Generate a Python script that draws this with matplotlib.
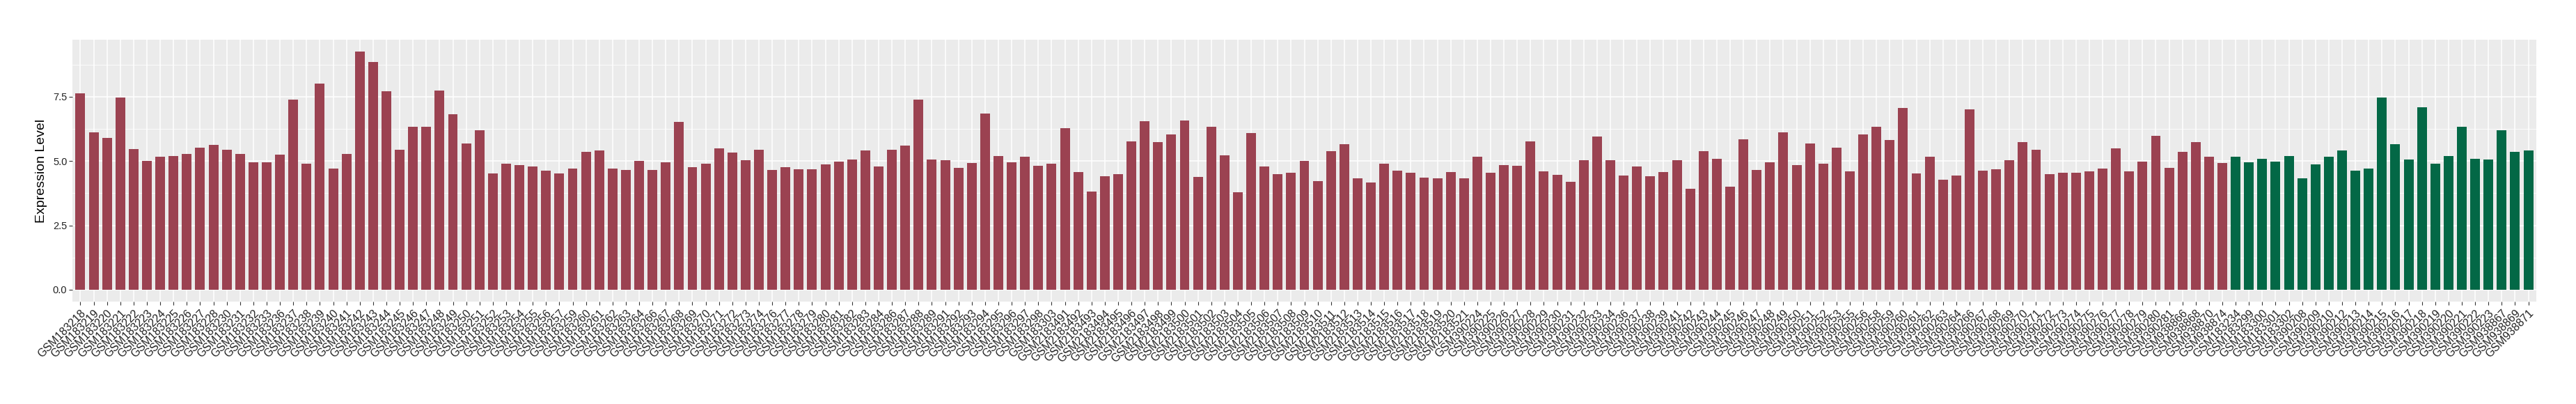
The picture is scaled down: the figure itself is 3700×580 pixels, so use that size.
import matplotlib
matplotlib.use("Agg")
import matplotlib.pyplot as plt
import numpy as np

# ---- data ----
group1_labels = (
    ["GSM1832%s" % s for s in ["18","19","20","21","22","23","24","25","26","27","28","30","31","32","33","36","37","38","39","40",
                               "41","42","43","44","45","46","47","48","49","50","51","52","53","54","55","56","57","59","60",
                               "61","62","63","64","66","67","68","69","70","71","72","73","74","76","77","78","79","80","81",
                               "82","83","84","86","87","88","89","91","92","93","94","95","96","97","98"]]
    + ["GSM183303"]
    + ["GSM21834%s" % s for s in ["91","92","93","94","95","96","97","98","99"]]
    + ["GSM21835%02d" % i for i in range(0, 22)]
    + ["GSM3902%s" % s for s in ["24","25","26","27","28","29","30","31","32","33","34","36","37","38","39","41","42","43",
                                 "44","45","46","47","48","49","50","51","52","53","55","56","58","59","60","61","62","63",
                                 "64","66","67","68","69","70","71","72","73","74","75","76","77","78","79","80","81"]]
    + ["GSM938866", "GSM938868", "GSM938870", "GSM938874"]
)
group1_values = [
    7.63, 6.11, 5.90, 7.47, 5.46, 5.01, 5.17, 5.19, 5.28, 5.52, 5.63, 5.44, 5.28, 4.95, 4.95, 5.25, 7.38, 4.90, 8.01, 4.71,
    5.28, 9.25, 8.84, 7.71, 5.44, 6.33, 6.33, 7.74, 6.82, 5.68, 6.19, 4.52, 4.90, 4.84, 4.79, 4.63, 4.52, 4.71, 5.36,
    5.41, 4.71, 4.65, 5.01,
    4.65, 4.95, 6.52, 4.76, 4.90, 5.49, 5.33, 5.03, 5.44, 4.65, 4.76, 4.68, 4.68, 4.87, 4.98, 5.06, 5.41, 4.79, 5.44,
    5.60, 7.38, 5.06, 5.03, 4.73,
    4.92, 6.84, 5.19, 4.95, 5.17, 4.82, 4.90,
    6.28, 4.57, 3.82, 4.41, 4.49, 5.76, 6.55, 5.73, 6.03, 6.57, 4.38, 6.33, 5.22, 3.79, 6.09, 4.79,
    4.49, 4.55, 5.01, 4.22, 5.38, 5.65, 4.33, 4.17, 4.90, 4.63, 4.55, 4.36, 4.33, 4.57, 4.33,
    5.17, 4.55, 4.84, 4.82, 5.76, 4.60, 4.46, 4.19, 5.03,
    5.95, 5.03, 4.44, 4.79, 4.41, 4.57, 5.03, 3.92, 5.38, 5.09, 4.00, 5.84, 4.65, 4.95, 6.11, 4.84, 5.68, 4.90, 5.52,
    4.60, 6.03, 6.33, 5.82, 7.06,
    4.52, 5.17, 4.28, 4.44, 7.01, 4.63, 4.68, 5.03, 5.73, 5.44, 4.49, 4.55, 4.55, 4.60, 4.71, 5.49, 4.60, 4.98, 5.98, 4.73,
    5.36, 5.73, 5.17, 4.92,
]
group2_labels = (
    ["GSM183234", "GSM183299", "GSM183300", "GSM183301", "GSM183302"]
    + ["GSM3902%s" % s for s in ["08","09","10","12","13","14","15","16","17","18","19","20","21","22","23"]]
    + ["GSM938867", "GSM938869", "GSM938871"]
)
group2_values = [5.17, 4.95, 5.09, 4.98, 5.19, 4.33, 4.87, 5.17, 5.41, 4.63, 4.71, 7.47, 5.65, 5.06, 7.09,
                 4.90, 5.19, 6.33, 5.09, 5.06, 6.19, 5.36, 5.41]
y_ticks = [0.0, 2.5, 5.0, 7.5]
y_label = "Expression Level"

# ---- plot ----
red = "#9B4251"
green = "#036846"
labels = group1_labels + group2_labels
values = group1_values + group2_values
colors = [red] * len(group1_values) + [green] * len(group2_values)
n = len(labels)
x = np.arange(n)

W, H = 3700, 580
fig = plt.figure(figsize=(W / 100, H / 100), dpi=100)
left, right, top, bottom = 104, 3643, 57, 433
ax = fig.add_axes([left / W, 1 - bottom / H, (right - left) / W, (bottom - top) / H])
ax.set_facecolor("#EBEBEB")
for s in ax.spines.values():
    s.set_visible(False)

ax.bar(x, values, width=0.73, color=colors, zorder=3)

ymax = max(values)
ax.set_ylim(-0.05 * ymax, ymax * 1.05)
ax.set_xlim(-0.6, n - 1 + 0.6)

ax.set_yticks(y_ticks)
ax.set_yticklabels(["%.1f" % v for v in y_ticks], fontsize=10.5, color="#222222", family="Liberation Sans")
ax.set_yticks([1.25, 3.75, 6.25, 8.75], minor=True)
ax.set_xticks(x)
ax.set_xticklabels(labels, rotation=45, ha="right", va="top", rotation_mode="anchor",
                   fontsize=11.5, color="#222222", family="Liberation Sans")
ax.tick_params(axis="both", which="major", length=3.5, width=0.8, color="#333333", pad=2)
ax.tick_params(axis="y", which="minor", length=0)
ax.tick_params(axis="x", which="major", pad=3)

ax.grid(True, which="major", color="white", linewidth=1.1, zorder=0)
ax.grid(True, which="minor", axis="y", color="white", linewidth=0.55, zorder=0)
ax.set_axisbelow(True)

ax.set_ylabel(y_label, fontsize=14, family="Liberation Sans", color="black", labelpad=6)

fig.savefig("out.png", dpi=100, facecolor="white")
